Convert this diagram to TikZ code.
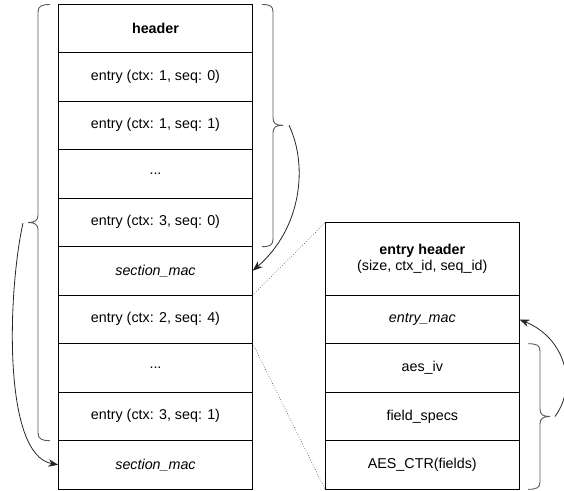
\documentclass[tikz,border=0pt]{standalone}
\usepackage{fontspec}
\setmainfont{Liberation Sans}
\usetikzlibrary{arrows.meta}
\begin{document}
\begin{tikzpicture}[x=1pt,y=-1pt,
  rowbox/.style={draw=black,line width=0.9pt,inner sep=0pt,outer sep=0pt,
    minimum width=194.4pt,minimum height=48.5pt,align=center,
    font=\fontsize{14.3}{17}\selectfont},
  bracepath/.style={draw=black!65,line width=0.9pt},
  curvearrow/.style={draw=black!85,line width=0.8pt,-{Stealth[length=10pt,width=7.5pt]}},
  zoomline/.style={draw=black!80,line width=0.6pt,dotted}]
\useasboundingbox (0,0) rectangle (564,490);
% left column
\node[rowbox] (L1) at (155.5,28.25) {\textbf{header}};
\node[rowbox] (L2) at (155.5,76.75) {entry (ctx: 1, seq: 0)};
\node[rowbox] (L3) at (155.5,125.25) {entry (ctx: 1, seq: 1)};
\node[rowbox] (L4) at (155.5,173.75) {...};
\node[rowbox] (L5) at (155.5,222.25) {entry (ctx: 3, seq: 0)};
\node[rowbox] (L6) at (155.5,270.75) {\itshape section\_mac};
\node[rowbox] (L7) at (155.5,319.25) {entry (ctx: 2, seq: 4)};
\node[rowbox] (L8) at (155.5,367.75) {...};
\node[rowbox] (L9) at (155.5,416.25) {entry (ctx: 3, seq: 1)};
\node[rowbox] (L10) at (155.5,464.75) {\itshape section\_mac};
% right column
\node[rowbox,minimum height=72.3pt] (R1) at (422.3,258.85) {\textbf{entry header}\\[-1pt](size, ctx\_id, seq\_id)};
\node[rowbox] (R2) at (422.3,319.5) {\itshape entry\_mac};
\node[rowbox] (R3) at (422.3,368) {aes\_iv};
\node[rowbox] (R4) at (422.3,416.5) {field\_specs};
\node[rowbox] (R5) at (422.3,465) {AES\_CTR(fields)};
% zoom lines
\draw[zoomline] (L7.north east) -- (R1.north west);
\draw[zoomline] (L7.south east) -- (R5.south west);
% braces
\coordinate (tipA) at (283,125.3);
\coordinate (tipB) at (28,222.5);
\coordinate (tipC) at (550,416.5);
\draw[bracepath] (262,4.5) .. controls (270,4.5) and (273,6) .. (273,12) -- (273,118)
  .. controls (273,123.5) and (276,125.3) .. (tipA)
  .. controls (276,125.3) and (273,127) .. (273,133) -- (273,239)
  .. controls (273,245) and (270,246.7) .. (262,246.7);
\draw[bracepath] (50,4.5) .. controls (42,4.5) and (38,6) .. (38,12) -- (38,215)
  .. controls (38,220.5) and (35,222.5) .. (tipB)
  .. controls (35,222.5) and (38,224.5) .. (38,230) -- (38,433)
  .. controls (38,439) and (42,440.7) .. (50,440.7);
\draw[bracepath] (528,343.7) .. controls (536,343.7) and (540,345) .. (540,351) -- (540,409)
  .. controls (540,414.5) and (543,416.5) .. (tipC)
  .. controls (543,416.5) and (540,418.5) .. (540,424) -- (540,482)
  .. controls (540,488) and (536,489.3) .. (528,489.3);
% arrows
\coordinate (startA) at (289,125.3);
\coordinate (startB) at (23,223);
\coordinate (startC) at (555,416.5);
\draw[curvearrow] (startA) .. controls (308,165) and (302,228) .. (L6.east);
\draw[curvearrow] (startB) .. controls (8,290) and (2,455) .. (L10.west);
\draw[curvearrow] (startC) .. controls (578,385) and (565,338) .. (R2.east);
\end{tikzpicture}
\end{document}
